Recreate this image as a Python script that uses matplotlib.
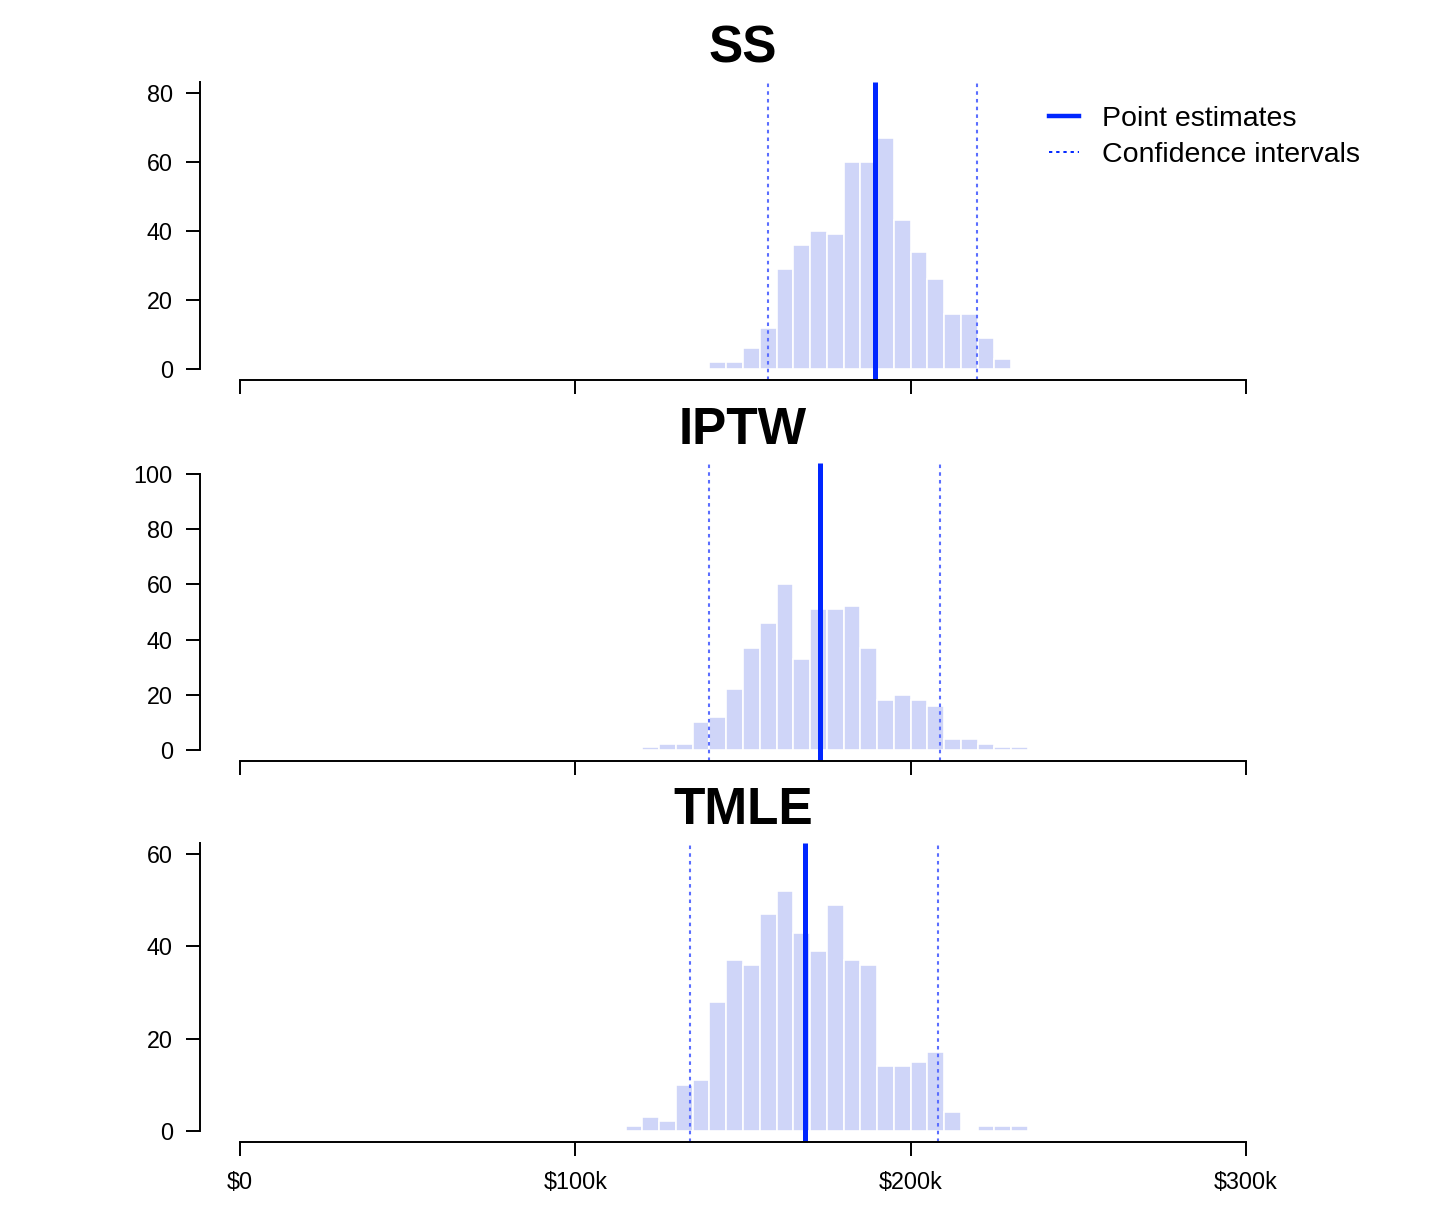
import numpy as np
import matplotlib.pyplot as plt
from matplotlib.lines import Line2D

plt.rcParams['font.family'] = ['Liberation Sans', 'DejaVu Sans']

# histogram data (counts per $5k bin)
titles = ['SS', 'IPTW', 'TMLE']
bin_width = 5000

ss_start = 140000
ss_counts = [2, 2, 6, 12, 29, 36, 40, 39, 60, 60, 67, 43, 34, 26, 16, 16, 9, 3]

iptw_start = 120000
iptw_counts = [1, 2, 2, 10, 12, 22, 37, 46, 60, 33, 51, 51, 52, 37, 18, 20, 18, 16,
               4, 4, 2, 1, 1]

tmle_start = 115000
tmle_counts = [1, 3, 2, 10, 11, 28, 37, 36, 47, 52, 43, 39, 49, 37, 36, 14, 14, 15,
               17, 4, 0, 1, 1, 1]

starts = [ss_start, iptw_start, tmle_start]
counts = [ss_counts, iptw_counts, tmle_counts]

point_est = [189300, 173100, 168400]
ci_low = [157400, 139900, 134200]
ci_high = [219700, 208800, 208200]

y_max = [80, 100, 60]
y_ticks = [[0, 20, 40, 60, 80], [0, 20, 40, 60, 80, 100], [0, 20, 40, 60]]
y_spine_top = [83.2, 100, 62.4]
x_ticks = [0, 100000, 200000, 300000]
x_labels = ['$0', '$100k', '$200k', '$300k']

bar_color = '#CFD5F8'
point_color = '#0026FF'
ci_color = '#5B6EFF'
ci_style = (0, (1.7, 2.0))

W, H = 1446, 1232
fig = plt.figure(figsize=(W / 100, H / 100), dpi=100)

# panel regions in pixels (top, bottom)
regions = [(81.7, 380), (463, 761), (843.3, 1141.7)]
left_px, right_px = 200, 1286

axes = []
for i, (top, bot) in enumerate(regions):
    ax = fig.add_axes([left_px / W, 1 - bot / H, (right_px - left_px) / W, (bot - top) / H])
    axes.append(ax)

    edges = starts[i] + bin_width * np.arange(len(counts[i]))
    ax.bar(edges, counts[i], width=bin_width, align='edge', color=bar_color,
           edgecolor='white', linewidth=1.2)

    lo, hi = -0.04 * y_max[i], 1.04 * y_max[i]
    ax.set_ylim(lo, hi)
    ax.set_xlim(-12000, 312000)

    ax.vlines([ci_low[i], ci_high[i]], lo, hi, colors=ci_color, linewidth=1.5,
              linestyles=[ci_style])
    ax.vlines(point_est[i], lo, hi, colors=point_color, linewidth=3.6)

    for s in ['top', 'right']:
        ax.spines[s].set_visible(False)
    ax.spines['left'].set_bounds(0, y_spine_top[i])
    ax.spines['bottom'].set_bounds(0, 300000)
    for s in ['left', 'bottom']:
        ax.spines[s].set_linewidth(1.4)

    ax.set_yticks(y_ticks[i])
    ax.set_xticks(x_ticks)
    if i == 2:
        ax.set_xticklabels(x_labels)
    else:
        ax.set_xticklabels([])
    ax.tick_params(axis='both', direction='out', length=10, width=1.4, labelsize=16.8)
    ax.tick_params(axis='y', pad=9.5)
    ax.tick_params(axis='x', pad=11)

    ax.set_title(titles[i], fontsize=37, fontweight='bold', pad=14)

handles = [Line2D([0], [0], color=point_color, lw=3.2),
           Line2D([0], [0], color=point_color, lw=1.4, ls=ci_style)]
axes[0].legend(handles, ['Point estimates', 'Confidence intervals'],
               loc='upper left', bbox_to_anchor=(1049 / W, 1 - 106 / H),
               bbox_transform=fig.transFigure, frameon=False, fontsize=20.5,
               handlelength=1.05, handletextpad=0.8, labelspacing=0.34,
               borderpad=0, borderaxespad=0)

fig.savefig('out.png', dpi=100)
